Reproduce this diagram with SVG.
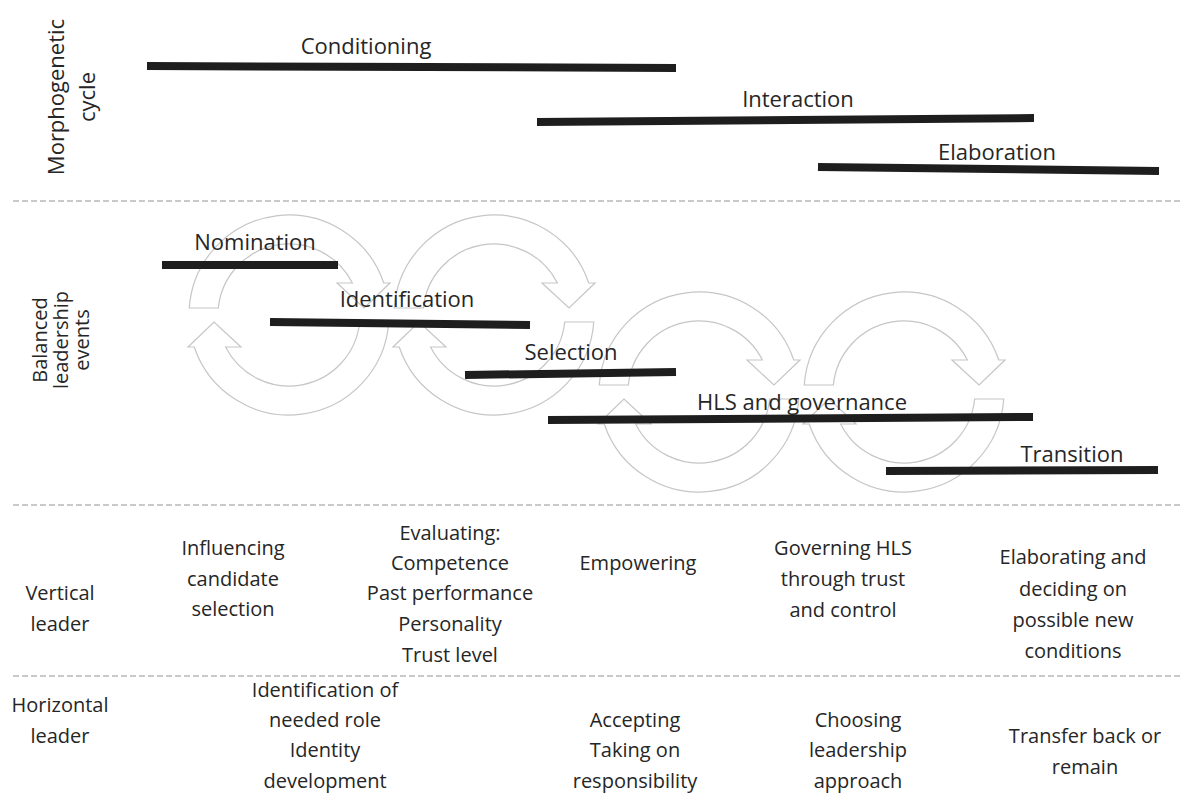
<svg xmlns="http://www.w3.org/2000/svg" width="1186" height="812" viewBox="0 0 1186 812">
  <style>
    text { font-family: "Open Sans", "Liberation Sans", sans-serif; fill: #262626; }
    .lbl { font-size: 22px; text-anchor: middle; }
    .body { font-size: 20px; text-anchor: middle; }
    .side { font-size: 22px; text-anchor: middle; }
    .side2 { font-size: 20px; text-anchor: middle; }
    .bar { stroke: #1e1e1e; stroke-width: 8; stroke-linecap: butt; }
    .sep { stroke: #b8b8b8; stroke-width: 1.5; stroke-dasharray: 6 3; fill: none; }
  </style>
  <defs>
    <!-- one circular double arrow, centred on the origin -->
    <g id="cycle">
      <path d="M -99.75 -7 A 100 100 0 0 1 94.76 -32 L 101 -32 L 75 -7 L 48 -32 L 63.4 -32 A 71 71 0 0 0 -70.65 -7 Z"/>
      <path d="M 99.75 7 A 100 100 0 0 1 -94.76 32 L -101 32 L -75 7 L -48 32 L -63.4 32 A 71 71 0 0 0 70.65 7 Z"/>
    </g>
  </defs>
  <rect width="1186" height="812" fill="#ffffff"/>

  <!-- row separators -->
  <g id="separators">
    <line class="sep" x1="13" y1="201" x2="1180" y2="201"/>
    <line class="sep" x1="13" y1="505" x2="1180" y2="505"/>
    <line class="sep" x1="13" y1="676" x2="1180" y2="676"/>
  </g>

  <!-- background cycle arrows -->
  <g id="cycles" fill="none" stroke="#c6c6c6" stroke-width="1.2">
    <use href="#cycle" transform="translate(289,315)"/>
    <use href="#cycle" transform="translate(494,315)"/>
    <use href="#cycle" transform="translate(699,392)"/>
    <use href="#cycle" transform="translate(904,392)"/>
  </g>

  <!-- row headings -->
  <g id="row-morphogenetic">
    <text class="side" transform="translate(64,97) rotate(-90)">Morphogenetic</text>
    <text class="side" transform="translate(95,97) rotate(-90)">cycle</text>
  </g>
  <g id="row-events">
    <text class="side2" transform="translate(47,340) rotate(-90)">Balanced</text>
    <text class="side2" transform="translate(68,340) rotate(-90)">leadership</text>
    <text class="side2" transform="translate(89,340) rotate(-90)">events</text>
  </g>
  <g id="row-vertical">
    <text class="body" x="60" y="600">Vertical</text>
    <text class="body" x="60" y="631">leader</text>
  </g>
  <g id="row-horizontal">
    <text class="body" x="60" y="712">Horizontal</text>
    <text class="body" x="60" y="743">leader</text>
  </g>

  <!-- morphogenetic phases -->
  <g id="conditioning">
    <line class="bar" x1="147" y1="66" x2="676" y2="68"/>
    <text class="lbl" x="366" y="54">Conditioning</text>
  </g>
  <g id="interaction">
    <line class="bar" x1="537" y1="122" x2="1034" y2="118"/>
    <text class="lbl" x="798" y="107">Interaction</text>
  </g>
  <g id="elaboration">
    <line class="bar" x1="818" y1="167" x2="1159" y2="171"/>
    <text class="lbl" x="997" y="160">Elaboration</text>
  </g>

  <!-- balanced leadership events -->
  <g id="nomination">
    <line class="bar" x1="162" y1="265" x2="338" y2="265"/>
    <text class="lbl" x="255" y="250">Nomination</text>
  </g>
  <g id="identification">
    <line class="bar" x1="270" y1="322" x2="530" y2="325"/>
    <text class="lbl" x="407" y="307">Identification</text>
  </g>
  <g id="selection">
    <line class="bar" x1="465" y1="375" x2="676" y2="372"/>
    <text class="lbl" x="571" y="360">Selection</text>
  </g>
  <g id="hls-governance">
    <line class="bar" x1="548" y1="420" x2="1033" y2="417"/>
    <text class="lbl" x="802" y="410">HLS and governance</text>
  </g>
  <g id="transition">
    <line class="bar" x1="886" y1="471" x2="1158" y2="470"/>
    <text class="lbl" x="1072" y="462">Transition</text>
  </g>

  <!-- vertical leader activities -->
  <g id="v-nomination">
    <text class="body" x="233" y="555">Influencing</text>
    <text class="body" x="233" y="586">candidate</text>
    <text class="body" x="233" y="616">selection</text>
  </g>
  <g id="v-identification">
    <text class="body" x="450" y="540">Evaluating:</text>
    <text class="body" x="450" y="570">Competence</text>
    <text class="body" x="450" y="600">Past performance</text>
    <text class="body" x="450" y="631">Personality</text>
    <text class="body" x="450" y="662">Trust level</text>
  </g>
  <g id="v-selection">
    <text class="body" x="638" y="570">Empowering</text>
  </g>
  <g id="v-governance">
    <text class="body" x="843" y="555">Governing HLS</text>
    <text class="body" x="843" y="586">through trust</text>
    <text class="body" x="843" y="617">and control</text>
  </g>
  <g id="v-transition">
    <text class="body" x="1073" y="564">Elaborating and</text>
    <text class="body" x="1073" y="596">deciding on</text>
    <text class="body" x="1073" y="627">possible new</text>
    <text class="body" x="1073" y="658">conditions</text>
  </g>

  <!-- horizontal leader activities -->
  <g id="h-identification">
    <text class="body" x="325" y="697">Identification of</text>
    <text class="body" x="325" y="727">needed role</text>
    <text class="body" x="325" y="757">Identity</text>
    <text class="body" x="325" y="788">development</text>
  </g>
  <g id="h-selection">
    <text class="body" x="635" y="727">Accepting</text>
    <text class="body" x="635" y="757">Taking on</text>
    <text class="body" x="635" y="788">responsibility</text>
  </g>
  <g id="h-governance">
    <text class="body" x="858" y="727">Choosing</text>
    <text class="body" x="858" y="757">leadership</text>
    <text class="body" x="858" y="788">approach</text>
  </g>
  <g id="h-transition">
    <text class="body" x="1085" y="743">Transfer back or</text>
    <text class="body" x="1085" y="774">remain</text>
  </g>
</svg>
